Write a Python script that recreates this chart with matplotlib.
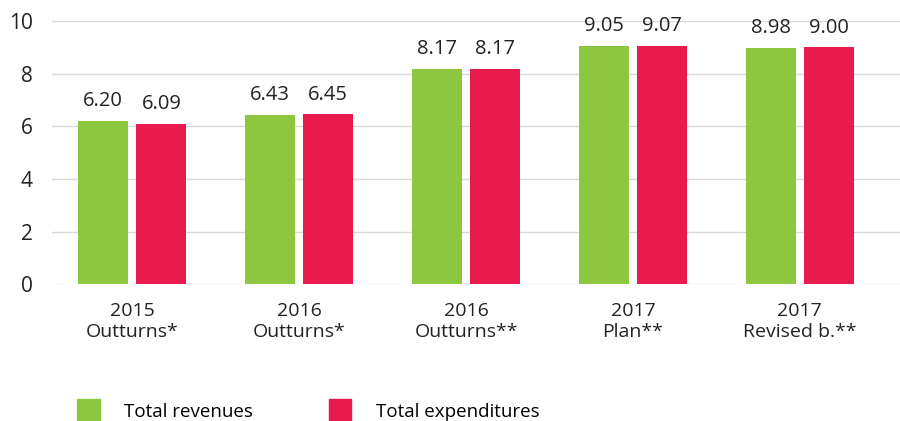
import numpy as np
import matplotlib.pyplot as plt
from matplotlib.patches import Patch

# chart data
categories = ["2015\nOutturns*", "2016\nOutturns*", "2016\nOutturns**", "2017\nPlan**", "2017\nRevised b.**"]
revenues = [6.20, 6.43, 8.17, 9.05, 8.98]
expenditures = [6.09, 6.45, 8.17, 9.07, 9.00]
y_ticks = [0, 2, 4, 6, 8, 10]

green = "#8DC63F"
red = "#E91B4C"

plt.rcParams['font.family'] = ['Open Sans', 'DejaVu Sans']

fig = plt.figure(figsize=(9, 4.21), dpi=100)
ax = fig.add_axes([0.058, 0.325, 0.942, 0.625])

x = np.arange(len(categories))
w = 0.3
off = 0.174
b1 = ax.bar(x - off, revenues, w, color=green)
b2 = ax.bar(x + off, expenditures, w, color=red)

# value labels above bars
for bars, vals in [(b1, revenues), (b2, expenditures)]:
    for b, v in zip(bars, vals):
        ax.annotate(f"{v:.2f}", (b.get_x() + b.get_width() / 2, v),
                    xytext=(0, 7), textcoords="offset points",
                    ha="center", va="bottom", fontsize=14.5, color="#222222",
                    annotation_clip=False)

ax.set_xlim(-0.48, 4.6)
ax.set_ylim(0, 10)
ax.set_yticks(y_ticks)
ax.set_xticks(x)
ax.set_xticklabels(categories, fontsize=14, color="#222222", linespacing=1.2)
ax.tick_params(axis="x", length=0, pad=13)
ax.tick_params(axis="y", length=0, pad=14, labelsize=15, labelcolor="#222222")
ax.grid(axis="y", color="#d9d9d9", linewidth=1)
ax.set_axisbelow(True)
for s in ax.spines.values():
    s.set_visible(False)

handles = [Patch(color=green, label="Total revenues"),
           Patch(color=red, label="Total expenditures")]
fig.legend(handles=handles, loc="lower left", bbox_to_anchor=(0.067, -0.045),
           ncol=2, frameon=False, fontsize=13.5, handlelength=1.2,
           handleheight=1.6, handletextpad=1.3, columnspacing=4.05)

fig.savefig("out.png", dpi=100)
